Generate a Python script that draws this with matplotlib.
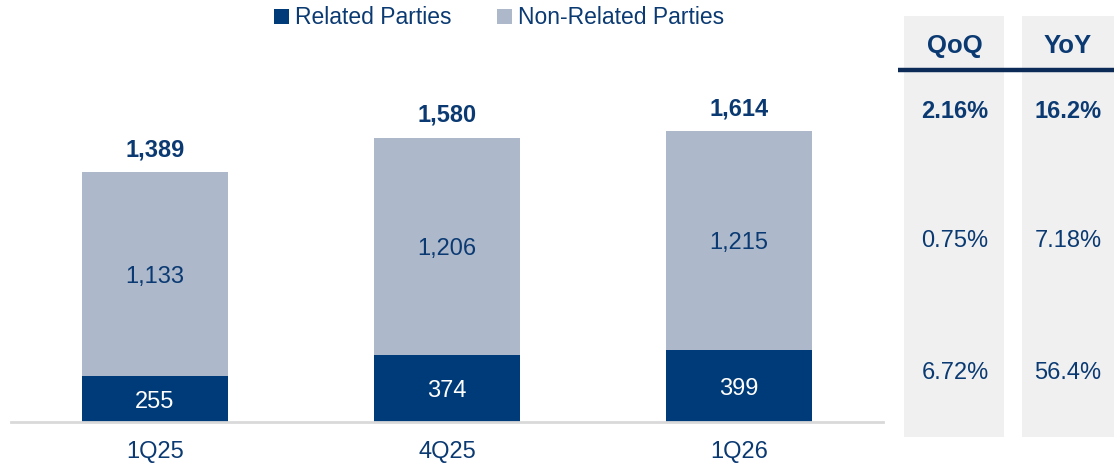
import matplotlib.pyplot as plt
from matplotlib.patches import Rectangle

plt.rcParams['font.family'] = ['Liberation Sans', 'DejaVu Sans']

quarters = ['1Q25', '4Q25', '1Q26']
related = [255, 374, 399]
non_related = [1133, 1206, 1215]
totals = [1389, 1580, 1614]

table_cols = ['QoQ', 'YoY']
qoq = ['2.16%', '0.75%', '6.72%']
yoy = ['16.2%', '7.18%', '56.4%']

dark = '#003b79'
light = '#adb9cb'
txt = '#0b3a72'

W, H = 1114, 463
fig = plt.figure(figsize=(W / 100, H / 100), dpi=100)

# table background panels (drawn first, behind everything)
bg = fig.add_axes([0, 0, 1, 1])
bg.set_xlim(0, W)
bg.set_ylim(H, 0)
bg.axis('off')
bg.add_patch(Rectangle((904, 16), 100, 421, color='#f0f0f0', lw=0))
bg.add_patch(Rectangle((1022, 16), 92, 421, color='#f0f0f0', lw=0))
bg.plot([898, 1114], [70, 70], color='#0c2c57', lw=3.2, solid_capstyle='butt')

col_x = [955, 1068]
row_y = [111, 241, 373]
for cx, name, vals in zip(col_x, table_cols, [qoq, yoy]):
    bg.text(cx, 46, name, ha='center', va='center', fontsize=18.5,
            fontweight='bold', color=txt)
    for i, (ry, v) in enumerate(zip(row_y, vals)):
        bg.text(cx, ry, v, ha='center', va='center', fontsize=17,
                fontweight='bold' if i == 0 else 'normal', color=txt)

# main bar chart
ax = fig.add_axes([11 / W, (H - 422) / H, 872 / W, 382 / H])
ax.patch.set_alpha(0)
x = list(range(len(quarters)))
ax.bar(x, related, width=0.5, color=dark, label='Related Parties')
ax.bar(x, non_related, width=0.5, bottom=related, color=light,
       label='Non-Related Parties')

for i in x:
    ax.text(i, related[i] / 2, f'{related[i]:,}', ha='center',
            va='center_baseline', fontsize=17, color='white')
    ax.text(i, related[i] + non_related[i] / 2, f'{non_related[i]:,}',
            ha='center', va='center_baseline', fontsize=17, color=txt)
    ax.text(i, totals[i] + 60, f'{totals[i]:,}', ha='center', va='bottom',
            fontsize=17, fontweight='bold', color=txt)

ax.set_xlim(-0.493, 2.493)
ax.set_ylim(0, 2122)
ax.set_xticks(x)
ax.set_xticklabels(quarters, fontsize=17, color=txt)
ax.tick_params(axis='x', length=0, pad=14)
ax.set_yticks([])
for s in ['top', 'right', 'left']:
    ax.spines[s].set_visible(False)
ax.spines['bottom'].set_color('#d9d9d9')
ax.spines['bottom'].set_linewidth(2)

leg = fig.legend(loc='center', bbox_to_anchor=(499 / W, 1 - 18 / H), ncol=2,
                 frameon=False, fontsize=16.5, handlelength=0.65,
                 handleheight=0.65, handletextpad=0.25, columnspacing=2.0)
for t in leg.get_texts():
    t.set_color(txt)

fig.savefig('out.png', dpi=100)
